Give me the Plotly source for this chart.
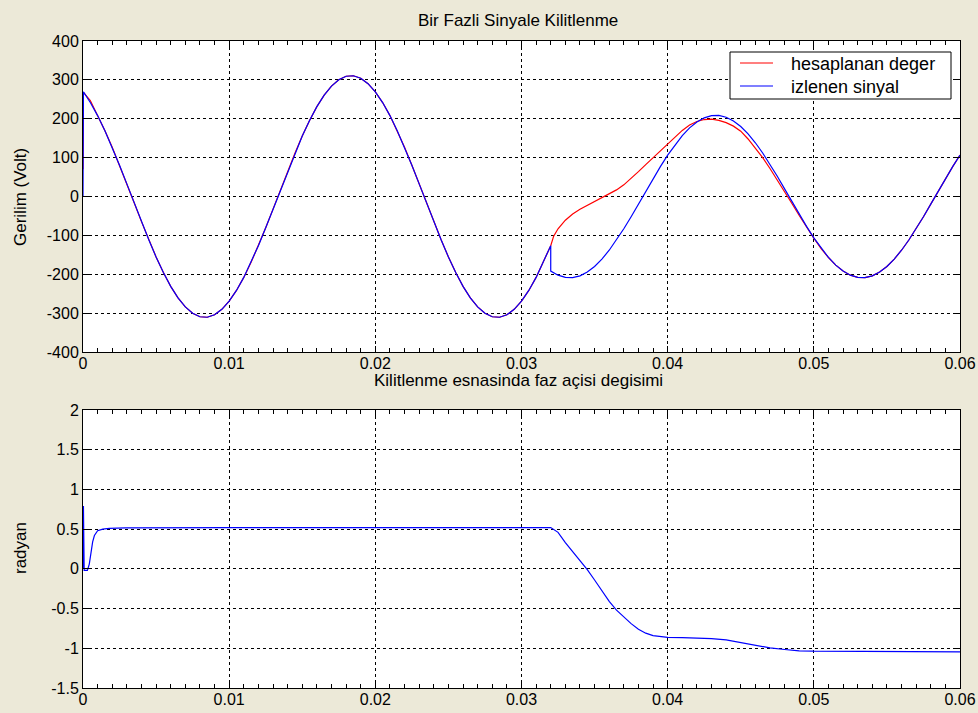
import plotly.graph_objects as go

# ---------------- data ----------------
# time in milliseconds
sig_t_ms = [0, 0.03, 0.5, 1.0, 1.5, 2.0, 2.5, 3.0, 3.5, 4.0, 4.5, 5.0, 5.5, 6.0, 6.5, 7.0, 7.5, 8.0,
            8.5, 9.0, 9.5, 10.0, 10.5, 11.0, 11.5, 12.0, 12.5, 13.0, 13.5, 14.0, 14.5, 15.0, 15.5,
            16.0, 16.5, 17.0, 17.5, 18.0, 18.5, 19.0, 19.5, 20.0, 20.5, 21.0, 21.5, 22.0, 22.5,
            23.0, 23.5, 24.0, 24.5, 25.0, 25.5, 26.0, 26.5, 27.0, 27.5, 28.0, 28.5, 29.0, 29.5,
            30.0, 30.5, 31.0, 31.5, 32.0,
            32.0, 32.5, 33.0, 33.5, 34.0, 34.5, 35.0, 35.5, 36.0, 36.5, 37.0, 37.5, 38.0, 38.5,
            39.0, 39.5, 40.0, 40.5, 41.0, 41.5, 42.0, 42.5, 43.0, 43.5, 44.0, 44.5, 45.0, 45.5,
            46.0, 46.5, 47.0, 47.5, 48.0, 48.5, 49.0, 49.5, 50.0, 50.5, 51.0, 51.5, 52.0, 52.5,
            53.0, 53.5, 54.0, 54.5, 55.0, 55.5, 56.0, 56.5, 57.0, 57.5, 58.0, 58.5, 59.0, 59.5, 60.0]
sig_v = [0, 269.3, 241.7, 208.1, 169.4, 126.5, 80.5, 32.5, -16.3, -64.7, -111.4, -155.5, -195.7,
         -231.1, -260.8, -284.1, -300.4, -309.3, -310.6, -304.2, -290.3, -269.3, -241.7, -208.1,
         -169.4, -126.5, -80.5, -32.5, 16.3, 64.7, 111.4, 155.5, 195.7, 231.1, 260.8, 284.1, 300.4,
         309.3, 310.6, 304.2, 290.3, 269.3, 241.7, 208.1, 169.4, 126.5, 80.5, 32.5, -16.3, -64.7,
         -111.4, -155.5, -195.7, -231.1, -260.8, -284.1, -300.4, -309.3, -310.6, -304.2, -290.3,
         -269.3, -241.7, -208.1, -169.4, -126.5,
         -191.8, -202.4, -208.1, -208.6, -204.0, -194.3, -179.9, -161.0, -138.2, -112.0, -83.0,
         -52.0, -19.7, 13.1, 45.6, 76.9, 106.4, 133.2, 156.8, 176.5, 191.8, 202.4, 208.1, 208.6,
         204.0, 194.3, 179.9, 161.0, 138.2, 112.0, 83.0, 52.0, 19.7, -13.1, -45.6, -76.9, -106.4,
         -133.2, -156.8, -176.5, -191.8, -202.4, -208.1, -208.6, -204.0, -194.3, -179.9, -161.0,
         -138.2, -112.0, -83.0, -52.0, -19.7, 13.1, 45.6, 76.9, 106.4]

est_t_ms = [0, 0.03, 0.5, 1.0, 1.5, 2.0, 2.5, 3.0, 3.5, 4.0, 4.5, 5.0, 5.5, 6.0, 6.5, 7.0, 7.5, 8.0,
            8.5, 9.0, 9.5, 10.0, 10.5, 11.0, 11.5, 12.0, 12.5, 13.0, 13.5, 14.0, 14.5, 15.0, 15.5,
            16.0, 16.5, 17.0, 17.5, 18.0, 18.5, 19.0, 19.5, 20.0, 20.5, 21.0, 21.5, 22.0, 22.5,
            23.0, 23.5, 24.0, 24.5, 25.0, 25.5, 26.0, 26.5, 27.0, 27.5, 28.0, 28.5, 29.0, 29.5,
            30.0, 30.5, 31.0, 31.5, 32.0, 32.2, 32.5, 33.0, 33.5, 34.0, 34.5, 35.0, 35.5, 36.0,
            36.5, 37.0, 37.5, 38.0, 38.5, 39.0, 39.5, 40.0, 40.5, 41.0, 41.5, 42.0, 42.5, 43.0,
            43.5, 44.0, 44.5, 45.0, 45.5, 46.0, 46.5, 47.0, 47.5, 48.0, 48.5, 49.0, 49.5, 50.0,
            50.5, 51.0, 51.5, 52.0, 52.5, 53.0, 53.5, 54.0, 54.5, 55.0, 55.5, 56.0, 56.5, 57.0,
            57.5, 58.0, 58.5, 59.0, 59.5, 60.0]
est_v = [70, 268, 247, 209.5, 169.4, 126.5, 80.5, 32.5, -16.3, -64.7, -111.4, -155.5, -195.7,
         -231.1, -260.8, -284.1, -300.4, -309.3, -310.6, -304.2, -290.3, -269.3, -241.7, -208.1,
         -169.4, -126.5, -80.5, -32.5, 16.3, 64.7, 111.4, 155.5, 195.7, 231.1, 260.8, 284.1, 300.4,
         309.3, 310.6, 304.2, 290.3, 269.3, 241.7, 208.1, 169.4, 126.5, 80.5, 32.5, -16.3, -64.7,
         -111.4, -155.5, -195.7, -231.1, -260.8, -284.1, -300.4, -309.3, -310.6, -304.2, -290.3,
         -269.3, -241.7, -208.1, -169.4, -126.5, -102, -83, -61, -45, -33, -23, -13.5, -4, 6,
         17, 30, 46, 64, 82, 100, 118, 136, 154, 170, 184, 193, 198, 199,
         196, 190, 181, 168, 148, 125, 100, 72, 43, 12, -18, -49, -79, -107,
         -134, -157, -176.5, -191.8, -202.4, -208.1, -208.6, -204.0, -194.3, -179.9, -161.0,
         -138.2, -112.0, -83.0, -52.0, -19.7, 13.1, 45.6, 76.9, 106.4]

ph_t_ms = [0, 0.03, 0.08, 0.3, 0.43, 0.55, 0.66, 0.78, 1.0, 1.35, 1.8, 2.9, 10.0, 32.0, 32.5, 33.0,
           33.5, 34.0, 34.5, 35.0, 35.5, 36.0, 36.5, 37.0, 37.5, 38.0, 38.5, 39.0, 39.5, 40.0,
           41.0, 42.0, 43.0, 44.0, 45.0, 46.0, 47.0, 48.0, 49.0, 50.0, 55.0, 55.5, 60.0]
ph_v = [0, 0.79, -0.02, -0.02, 0.06, 0.21, 0.34, 0.42, 0.48, 0.50, 0.51, 0.515, 0.52, 0.52, 0.46,
        0.33, 0.22, 0.11, -0.01, -0.14, -0.28, -0.41, -0.52, -0.61, -0.69, -0.76, -0.81, -0.84,
        -0.855, -0.862, -0.866, -0.87, -0.878, -0.895, -0.93, -0.96, -0.995, -1.015, -1.032,
        -1.037, -1.04, -1.045, -1.045]

x_ticks = [0, 0.01, 0.02, 0.03, 0.04, 0.05, 0.06]
x_labels = ["0", "0.01", "0.02", "0.03", "0.04", "0.05", "0.06"]
y1_ticks = [-400, -300, -200, -100, 0, 100, 200, 300, 400]
y1_labels = ["-400", "-300", "-200", "-100", "0", "100", "200", "300", "400"]
y2_ticks = [-1.5, -1, -0.5, 0, 0.5, 1, 1.5, 2]
y2_labels = ["-1.5", "-1", "-0.5", "0", "0.5", "1", "1.5", "2"]

name_est = "hesaplanan deger"
name_sig = "izlenen sinyal"
title_top = "Bir Fazli Sinyale Kilitlenme"
title_bottom = "Kilitlenme esnasinda faz açisi degisimi"

# ---------------- figure ----------------
W, H = 978, 713
FONT = "Liberation Sans, Arial, sans-serif"
RED, BLUE = "#FF0000", "#0000FF"

sig_t = [v / 1000 for v in sig_t_ms]
est_t = [v / 1000 for v in est_t_ms]
ph_t = [v / 1000 for v in ph_t_ms]

fig = go.Figure()
fig.add_trace(go.Scatter(x=est_t, y=est_v, mode="lines", name=name_est,
                         line=dict(color=RED, width=1.2), xaxis="x", yaxis="y"))
fig.add_trace(go.Scatter(x=sig_t, y=sig_v, mode="lines", name=name_sig,
                         line=dict(color=BLUE, width=1.2), xaxis="x", yaxis="y"))
fig.add_trace(go.Scatter(x=ph_t, y=ph_v, mode="lines", showlegend=False,
                         line=dict(color=BLUE, width=1.2), xaxis="x2", yaxis="y2"))

def px_x(p):
    return p / W

def px_y(p):
    return 1 - p / H

TICKFONT = dict(family=FONT, size=16, color="black")
common_x = dict(range=[0, 0.06], tickvals=x_ticks, ticktext=x_labels, ticks="inside",
                ticklen=6, tickcolor="black", tickwidth=1, showline=True, linecolor="black",
                linewidth=1, mirror="ticks", showgrid=True, gridcolor="black", gridwidth=1,
                griddash="3px,3px", zeroline=False, automargin=False, tickfont=TICKFONT,
                ticklabelstandoff=-3,
                minor=dict(ticks="inside", dtick=0.001, tick0=0, ticklen=4, tickcolor="black",
                           showgrid=False),
                domain=[px_x(83), px_x(960)])
common_y = dict(ticks="inside", ticklen=6, tickcolor="black", tickwidth=1, showline=True,
                linecolor="black", linewidth=1, mirror="ticks", showgrid=True,
                gridcolor="black", gridwidth=1, griddash="3px,3px", zeroline=False,
                automargin=False, tickfont=TICKFONT)

def txt(text, x, y, size=17, angle=0, xanchor="center"):
    return dict(text=text, x=px_x(x), y=px_y(y), xref="paper", yref="paper",
                xanchor=xanchor, yanchor="middle", textangle=angle, showarrow=False,
                font=dict(family=FONT, size=size, color="black"))

# legend box drawn in paper space (box geometry matched to the reference)
shapes = [
    dict(type="rect", xref="paper", yref="paper", x0=px_x(730), x1=px_x(951),
         y0=px_y(99), y1=px_y(52), fillcolor="white", line=dict(color="black", width=1),
         layer="above"),
    dict(type="line", xref="paper", yref="paper", x0=px_x(740), x1=px_x(773),
         y0=px_y(63), y1=px_y(63), line=dict(color=RED, width=1.2), layer="above"),
    dict(type="line", xref="paper", yref="paper", x0=px_x(740), x1=px_x(773),
         y0=px_y(86), y1=px_y(86), line=dict(color=BLUE, width=1.2), layer="above"),
]

fig.update_layout(
    width=W, height=H, template="none",
    paper_bgcolor="#ECE9D8", plot_bgcolor="white",
    margin=dict(l=0, r=0, t=0, b=0),
    font=dict(family=FONT, size=16, color="black"),
    xaxis=dict(common_x, anchor="y"),
    yaxis=dict(common_y, range=[-400, 400], tickvals=y1_ticks, ticktext=y1_labels,
               domain=[px_y(352), px_y(41)], anchor="x"),
    xaxis2=dict(common_x, anchor="y2"),
    yaxis2=dict(common_y, range=[-1.5, 2], tickvals=y2_ticks, ticktext=y2_labels,
                domain=[px_y(688), px_y(410)], anchor="x2"),
    showlegend=False,
    shapes=shapes,
    annotations=[
        txt(title_top, 518, 20),
        txt(title_bottom, 518, 380),
        txt("Gerilim (Volt)", 20, 197, angle=-90),
        txt("radyan", 20, 548, angle=-90),
        txt(name_est, 789, 64, size=18, xanchor="left"),
        txt(name_sig, 789, 87, size=18, xanchor="left"),
    ],
)

fig.write_html("out.html", config={"displayModeBar": False},
               post_script="document.body.style.margin='0';")
